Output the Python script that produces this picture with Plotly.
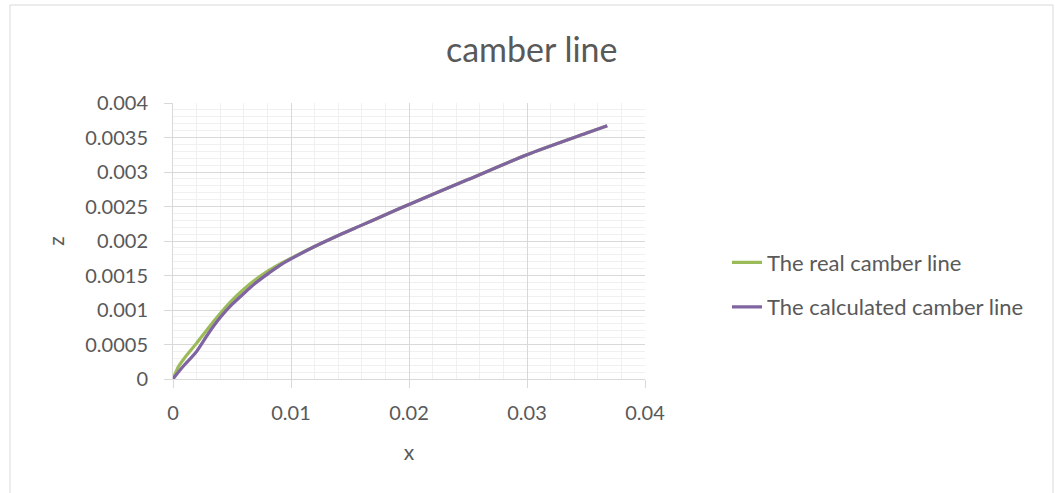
import plotly.graph_objects as go

# Data
x_vals = [0, 0.0005, 0.001, 0.002, 0.003, 0.004, 0.005, 0.006, 0.007,
          0.008, 0.009, 0.01, 0.012, 0.014, 0.016, 0.018, 0.02, 0.025, 0.03,
          0.035, 0.0368]
z_real = [0, 0.00019, 0.00031, 0.00052, 0.00074, 0.00095, 0.00114, 0.0013,
          0.00144, 0.00156, 0.00166, 0.00175, 0.00192, 0.00208,
          0.00223, 0.00238, 0.00253, 0.00289, 0.00325, 0.00356, 0.00367]
z_calc = [0, 0.00011, 0.00021, 0.0004, 0.00066, 0.00089, 0.00108, 0.00124,
          0.00139, 0.00152, 0.00164, 0.00174, 0.00192, 0.00208,
          0.00223, 0.00238, 0.00253, 0.00289, 0.00325, 0.00356, 0.00367]

series_names = ["The real camber line", "The calculated camber line"]
series_colors = ["#9BBB59", "#8064A2"]

x_ticks = [0, 0.01, 0.02, 0.03, 0.04]
x_ticktext = ["0", "0.01", "0.02", "0.03", "0.04"]
y_ticks = [0, 0.0005, 0.001, 0.0015, 0.002, 0.0025, 0.003, 0.0035, 0.004]
y_ticktext = ["0", "0.0005", "0.001", "0.0015", "0.002", "0.0025", "0.003",
              "0.0035", "0.004"]

FONT = "Lato, Open Sans, sans-serif"
TXT = "#595959"

fig = go.Figure()
for name, ys, col in zip(series_names, [z_real, z_calc], series_colors):
    fig.add_trace(go.Scatter(x=x_vals, y=ys, mode="lines", name=name,
                             legendgroup=name,
                             line=dict(color=col, width=3.2, shape="spline",
                                       smoothing=0.8)))

axis_common = dict(
    showline=True, linecolor="#D9D9D9", linewidth=1,
    gridcolor="#D9D9D9", gridwidth=1,
    ticks="outside", ticklen=8, tickcolor="#D9D9D9",
    tickfont=dict(family=FONT, size=20, color=TXT),
    zeroline=False, mirror=False,
)

fig.update_layout(
    width=1055, height=493,
    margin=dict(l=173, r=410, t=103, b=114),
    paper_bgcolor="white", plot_bgcolor="white",
    title=dict(text="camber line", x=0.504, xref="container", xanchor="center",
               y=1 - 50 / 493, yref="container", yanchor="middle",
               font=dict(family=FONT, size=34, color=TXT)),
    xaxis=dict(range=[0, 0.04], tickvals=x_ticks, ticktext=x_ticktext,
               ticklabelstandoff=8,
               minor=dict(dtick=0.002, showgrid=True, gridcolor="#F0F0F0",
                          gridwidth=1, ticks=""),
               title=dict(text="x", font=dict(family=FONT, size=21, color=TXT),
                          standoff=22),
               **axis_common),
    yaxis=dict(range=[0, 0.004], tickvals=y_ticks, ticktext=y_ticktext,
               ticklabelstandoff=12,
               minor=dict(dtick=0.0001, showgrid=True, gridcolor="#F0F0F0",
                          gridwidth=1, ticks=""),
               title=dict(text="z", font=dict(family=FONT, size=21, color=TXT),
                          standoff=14),
               **axis_common),
    legend=dict(x=(727 - 173) / 472, xanchor="left",
                y=(379 - 285) / 276, yanchor="middle",
                font=dict(family=FONT, size=22, color=TXT),
                tracegroupgap=13, bgcolor="rgba(0,0,0,0)"),
    showlegend=True,
)

# chart-area border
fig.add_shape(type="rect", xref="paper", yref="paper",
              x0=(10 - 173) / 472, x1=(1053 - 173) / 472,
              y0=(379 - 520) / 276, y1=(379 - 5) / 276,
              line=dict(color="#D9D9D9", width=1), layer="below")

fig.write_html("out.html")
